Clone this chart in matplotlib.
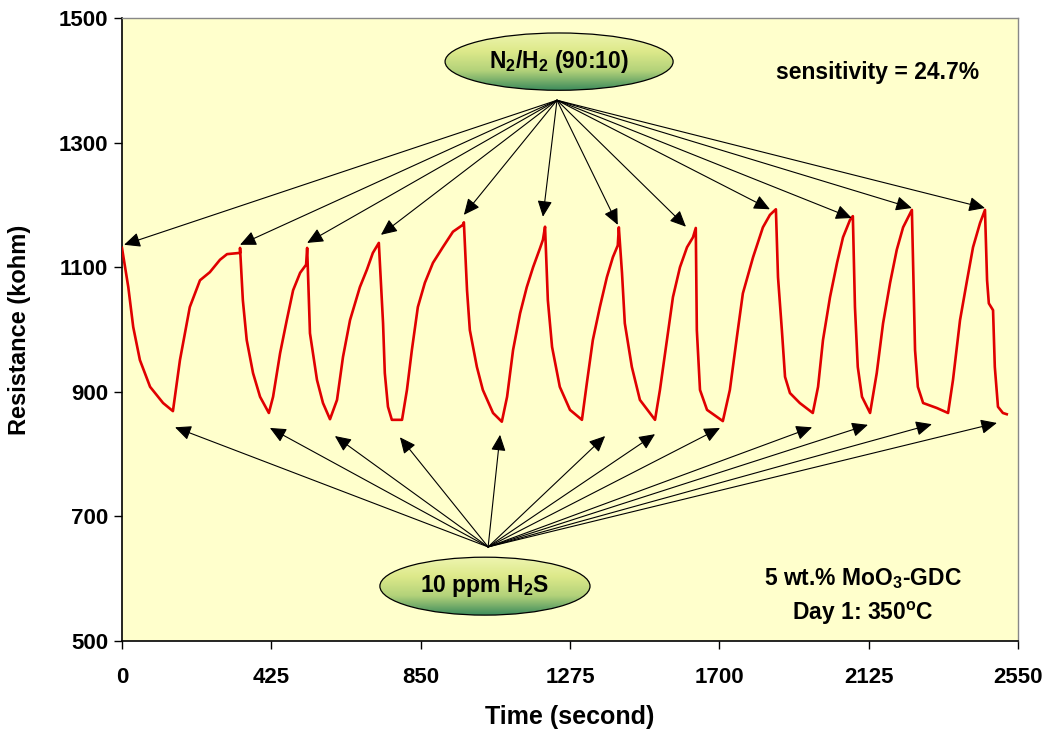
import numpy as np
import matplotlib
matplotlib.use("Agg")
import matplotlib.pyplot as plt
from matplotlib.patches import Ellipse
from matplotlib.colors import LinearSegmentedColormap

plt.rcParams.update({
    "font.family": "Liberation Sans",
    "font.weight": "bold",
    "mathtext.fontset": "custom",
    "mathtext.rm": "Liberation Sans:bold",
    "mathtext.it": "Liberation Sans:bold:italic",
    "mathtext.bf": "Liberation Sans:bold",
})

# resistance trace, 5 wt.% MoO3-GDC, day 1 at 350 C
time_s = [0, 18, 32, 51, 80, 117, 145,
          165, 193, 222, 250, 279, 299, 336, 336,
          344, 355, 373, 393, 418,
          430, 450, 469, 487, 507, 524, 527,
          535, 555, 572, 592,
          612, 629, 649, 677, 697, 714, 731,
          743, 748, 757, 768, 797,
          811, 825, 842, 862, 885, 913, 942, 970, 973,
          982, 990, 1010, 1027, 1056, 1081,
          1096, 1113, 1133, 1152, 1170, 1190, 1198, 1204,
          1212, 1224, 1246, 1275, 1309,
          1323, 1340, 1360, 1380, 1397, 1411, 1414,
          1423, 1431, 1451, 1474, 1517,
          1531, 1551, 1568, 1588, 1608, 1625, 1633,
          1636, 1645, 1665, 1710,
          1730, 1750, 1767, 1796, 1824, 1844, 1861,
          1867, 1878, 1887, 1901, 1929, 1966,
          1981, 1995, 2015, 2035, 2052, 2072, 2080,
          2086, 2094, 2106, 2129,
          2148, 2166, 2186, 2205, 2223, 2248,
          2257, 2265, 2280, 2319, 2351,
          2365, 2385, 2405, 2422, 2442, 2456,
          2462, 2467, 2479, 2484, 2493, 2507, 2518]
resistance = [1131, 1068, 1004, 951, 908, 882, 869,
              951, 1036, 1079, 1092, 1112, 1121, 1123, 1131,
              1047, 983, 930, 892, 866,
              892, 962, 1015, 1063, 1091, 1104, 1131,
              994, 919, 882, 856,
              887, 956, 1015, 1068, 1096, 1123, 1139,
              1010, 930, 876, 855, 855,
              903, 967, 1036, 1075, 1107, 1132, 1157, 1168, 1172,
              1063, 999, 940, 903, 866, 852,
              892, 967, 1026, 1068, 1100, 1131, 1144, 1165,
              1047, 972, 908, 871, 855,
              914, 983, 1036, 1084, 1116, 1135, 1164,
              1091, 1010, 940, 887, 855,
              903, 983, 1052, 1100, 1132, 1148, 1163,
              999, 903, 871, 853,
              903, 988, 1058, 1116, 1164, 1184, 1193,
              1084, 999, 924, 898, 882, 866,
              908, 983, 1052, 1107, 1148, 1176, 1182,
              1036, 940, 892, 866,
              930, 1010, 1075, 1128, 1164, 1192,
              967, 908, 882, 874, 866,
              919, 1015, 1079, 1132, 1171, 1192,
              1079, 1042, 1031, 940, 876, 866, 864]

# gas switching points marked by the arrows
n2h2_t = [6, 336, 527, 737, 973, 1198, 1411, 1605, 1844, 2077, 2248, 2456]
n2h2_r = [1136, 1136, 1139, 1152, 1184, 1181, 1168, 1165, 1193, 1179, 1195, 1195]
h2s_t = [151, 421, 606, 791, 1076, 1375, 1517, 1702, 1964, 2123, 2305, 2490]
h2s_r = [843, 842, 829, 827, 831, 829, 832, 842, 843, 847, 848, 850]
n2h2_src = (1238, 1368)
h2s_src = (1042, 651)

x_ticks = [0, 425, 850, 1275, 1700, 2125, 2550]
y_ticks = [500, 700, 900, 1100, 1300, 1500]

fig = plt.figure(figsize=(10.47, 7.36), dpi=100)
ax = fig.add_axes([0.1165, 0.1291, 0.8558, 0.8464])
ax.set_facecolor("#FFFFCC")

ax.plot(time_s, resistance, color="#E00000", lw=1.9, zorder=3)

arrow_kw = dict(arrowstyle="-|>,head_length=0.7,head_width=0.32",
                color="black", lw=0.8, mutation_scale=14,
                shrinkA=0, shrinkB=0)
for t, r in zip(n2h2_t, n2h2_r):
    ax.annotate("", xy=(t, r), xytext=n2h2_src, arrowprops=arrow_kw, zorder=4)
for t, r in zip(h2s_t, h2s_r):
    ax.annotate("", xy=(t, r), xytext=h2s_src, arrowprops=arrow_kw, zorder=4)

green = LinearSegmentedColormap.from_list(
    "bubble", ["#EEF5B0", "#DDE98A", "#B3D27A", "#3E8C5C"])


def bubble(cx, cy, w, h, label):
    ell = Ellipse((cx, cy), w, h, facecolor="none", edgecolor="black",
                  lw=0.9, zorder=6)
    ax.add_patch(ell)
    grad = np.linspace(0, 1, 256).reshape(-1, 1)
    im = ax.imshow(grad, cmap=green, aspect="auto", origin="upper",
                   extent=(cx - w / 2, cx + w / 2, cy - h / 2, cy + h / 2),
                   zorder=5, interpolation="bilinear")
    im.set_clip_path(ell)
    ax.text(cx, cy, label, ha="center", va="center", fontsize=16.5,
            fontweight="bold", zorder=7)


bubble(1244, 1430, 649, 92, r"N$_2$/H$_2$ (90:10)")
bubble(1033, 588, 598, 93, r"10 ppm H$_2$S")

ax.text(2149, 1412, "sensitivity = 24.7%", ha="center", va="center",
        fontsize=16.5, fontweight="bold")
ax.text(2109, 601, r"5 wt.% MoO$_3$-GDC", ha="center", va="center",
        fontsize=16.5, fontweight="bold")
ax.text(2109, 545, r"Day 1: 350$^\mathrm{o}$C", ha="center", va="center",
        fontsize=16.5, fontweight="bold")

ax.set_xlim(0, 2550)
ax.set_ylim(500, 1500)
ax.set_xticks(x_ticks)
ax.set_yticks(y_ticks)
ax.tick_params(direction="out", length=6, width=1.0, labelsize=16)
ax.tick_params(axis="x", pad=13)
ax.tick_params(axis="y", pad=4)
for lab in ax.get_xticklabels() + ax.get_yticklabels():
    lab.set_fontweight("bold")
ax.set_xlabel("Time (second)", fontsize=18, fontweight="bold", labelpad=12)
ax.set_ylabel("Resistance (kohm)", fontsize=17, fontweight="bold", labelpad=20)

for side in ("top", "right"):
    ax.spines[side].set_color("#888888")
    ax.spines[side].set_linewidth(1.0)
for side in ("left", "bottom"):
    ax.spines[side].set_color("black")
    ax.spines[side].set_linewidth(1.2)

fig.savefig("out.png", dpi=100)
